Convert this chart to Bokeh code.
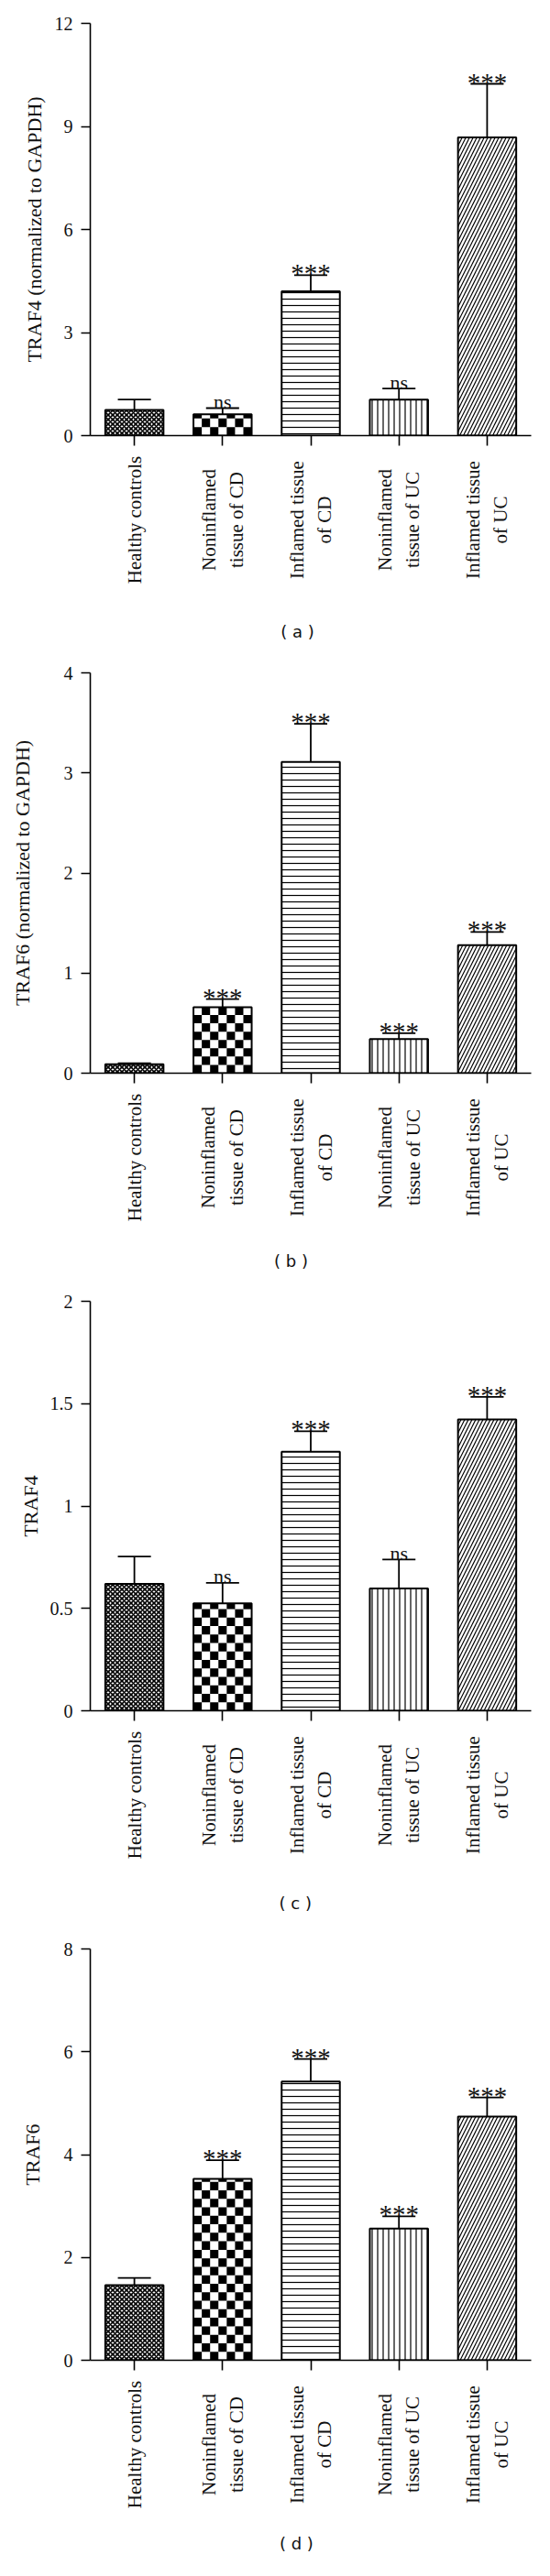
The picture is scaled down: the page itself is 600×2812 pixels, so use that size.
import math
from bokeh.plotting import figure
from bokeh.models import Range1d, FixedTicker, ColumnDataSource
from bokeh.layouts import column
from bokeh.embed import file_html
from bokeh.resources import INLINE
from bokeh.core.properties import value

# ---------------- data ----------------
categories = ["Healthy controls", "Noninflamed\ntissue of CD", "Inflamed tissue\nof CD",
              "Noninflamed\ntissue of UC", "Inflamed tissue\nof UC"]

traf4_mrna = [0.75, 0.62, 4.20, 1.05, 8.68]
traf4_mrna_err = [0.30, 0.18, 0.47, 0.32, 1.56]
traf4_mrna_sig = ["", "ns", "***", "ns", "***"]

traf6_mrna = [0.09, 0.66, 3.11, 0.34, 1.28]
traf6_mrna_err = [0.01, 0.08, 0.38, 0.06, 0.13]
traf6_mrna_sig = ["", "***", "***", "***", "***"]

traf4_prot = [0.62, 0.525, 1.265, 0.597, 1.423]
traf4_prot_err = [0.133, 0.10, 0.10, 0.142, 0.11]
traf4_prot_sig = ["", "ns", "***", "ns", "***"]

traf6_prot = [1.46, 3.53, 5.42, 2.56, 4.74]
traf6_prot_err = [0.14, 0.36, 0.44, 0.24, 0.37]
traf6_prot_sig = ["", "***", "***", "***", "***"]

ticks_a = [0, 3, 6, 9, 12]
ticks_b = [0, 1, 2, 3, 4]
ticks_c = [0, 0.5, 1, 1.5, 2]
ticks_d = [0, 2, 4, 6, 8]
tick_labels_c = ["0", "0.5", "1", "1.5", "2"]

SERIF = "Liberation Serif"
BAR_W = 0.66
CAP_W = 0.375
PAGE_W = 584
FRAME_RIGHT = 587
AX_BOTTOM = 15        # space kept under the zero line inside the chart figure
LABEL_CENTER = 92     # px below zero line: centre of the category labels
LINE_GAP = 15.5       # px between the centre of a label block and each of its two lines
TAG_X = 325           # page x of the panel tag


def make_panel(vals, errs, sigs, ticks, tick_text, ylabel, tag,
               axis_x, top, zero, fig_start, fig_end, label_standoff, tag_below):
    ymax = ticks[-1]
    frame_h = zero - top
    frame_w = FRAME_RIGHT - axis_x
    ppx = frame_w / 5.0
    ppy = frame_h / ymax
    xr = Range1d(-0.5, 4.5)
    p = figure(width=PAGE_W, height=zero + AX_BOTTOM - fig_start, output_backend="svg",
               toolbar_location=None, x_range=xr, y_range=Range1d(0, ymax),
               min_border_left=axis_x - 8, min_border_right=PAGE_W + 8 - FRAME_RIGHT,
               min_border_top=top - fig_start, min_border_bottom=AX_BOTTOM)
    p.outline_line_color = None
    p.grid.visible = False
    p.background_fill_color = "white"
    p.border_fill_color = "white"

    xs = list(range(len(vals)))
    patterns = ["diagonal_cross", " ", "horizontal_line", "vertical_line", "right_diagonal_line"]
    hscale = [5, 8, 7, 6, 8]
    hweight = [1.6, 1, 1.2, 1.2, 1.2]
    src = ColumnDataSource(dict(x=xs, top=vals, pat=patterns, hs=hscale, hw=hweight))
    p.vbar(x="x", top="top", bottom=0, width=BAR_W, source=src, fill_color="white",
           line_color=None, hatch_pattern="pat", hatch_scale="hs", hatch_weight="hw",
           hatch_color="black")

    # checkerboard for the second bar
    ci = 1
    ncol = 7
    cw = BAR_W / ncol
    rh = cw * ppx / ppy
    nrow = int(math.ceil(vals[ci] / rh))
    l, r, b, t = [], [], [], []
    for row in range(nrow):
        for col in range(ncol):
            if (row + col) % 2 == 0:
                x0 = ci - BAR_W / 2 + col * cw
                l.append(x0)
                r.append(x0 + cw)
                b.append(row * rh)
                t.append(min((row + 1) * rh, vals[ci]))
    p.quad(left=l, right=r, bottom=b, top=t, fill_color="black", line_color=None)

    p.vbar(x=xs, top=vals, bottom=0, width=BAR_W, fill_color=None,
           line_color="black", line_width=2)

    hi = [v + e for v, e in zip(vals, errs)]
    p.segment(x0=xs, y0=vals, x1=xs, y1=hi, line_color="black", line_width=1.8)
    p.segment(x0=[x - CAP_W / 2 for x in xs], y0=hi, x1=[x + CAP_W / 2 for x in xs], y1=hi,
              line_color="black", line_width=1.8)

    ns_x = [x for x, s in zip(xs, sigs) if s == "ns"]
    ns_y = [y for y, s in zip(hi, sigs) if s == "ns"]
    ns_t = [s for s in sigs if s == "ns"]
    st_x = [x for x, s in zip(xs, sigs) if s == "***"]
    st_y = [y for y, s in zip(hi, sigs) if s == "***"]
    st_t = [s for s in sigs if s == "***"]
    if ns_t:
        p.text(x=ns_x, y=ns_y, text=ns_t, text_font=value(SERIF), text_font_size="22px",
               text_align="center", text_baseline="alphabetic", y_offset=-7, text_color="#111")
    if st_t:
        p.text(x=st_x, y=st_y, text=st_t, text_font=value(SERIF), text_font_size="29px",
               text_align="center", text_baseline="alphabetic", y_offset=-2, text_color="#111")

    # y axis
    ya = p.yaxis[0]
    ya.ticker = FixedTicker(ticks=ticks)
    ya.major_label_overrides = {tk: tx for tk, tx in zip(ticks, tick_text)}
    ya.major_label_text_font = SERIF
    ya.major_label_text_font_size = "20px"
    ya.major_label_text_color = "#111"
    ya.major_label_standoff = 9
    ya.major_tick_out = 10
    ya.major_tick_in = 0
    ya.minor_tick_out = 0
    ya.minor_tick_in = 0
    ya.axis_line_width = 1.6
    ya.major_tick_line_width = 1.6
    ya.axis_label = ylabel
    ya.axis_label_text_font = SERIF
    ya.axis_label_text_font_size = "22px"
    ya.axis_label_text_font_style = "normal"
    ya.axis_label_text_color = "#111"
    ya.axis_label_standoff = label_standoff

    # x axis: ticks only (category names are set in the strip below)
    xa = p.xaxis[0]
    xa.ticker = FixedTicker(ticks=xs)
    xa.major_label_text_color = None
    xa.major_label_text_font_size = "1px"
    xa.major_label_standoff = 0
    xa.major_tick_out = 11
    xa.major_tick_in = 0
    xa.minor_tick_out = 0
    xa.minor_tick_in = 0
    xa.axis_line_width = 1.6
    xa.major_tick_line_width = 1.6

    # label strip under the chart
    strip_h = fig_end - (zero + AX_BOTTOM)
    q = figure(width=PAGE_W, height=strip_h, output_backend="svg", toolbar_location=None,
               x_range=xr, y_range=Range1d(0, strip_h),
               x_axis_location=None, y_axis_location=None,
               min_border_left=axis_x - 8, min_border_right=PAGE_W + 8 - FRAME_RIGHT,
               min_border_top=0, min_border_bottom=0)
    q.outline_line_color = None
    q.grid.visible = False
    q.background_fill_color = "white"
    q.border_fill_color = "white"

    yc = strip_h - (LABEL_CENTER - AX_BOTTOM)
    d = LINE_GAP / ppx
    lx, ly, lt = [], [], []
    for i, c in enumerate(categories):
        lines = c.split("\n")
        n = len(lines)
        for k, line in enumerate(lines):
            lx.append(i + (k - (n - 1) / 2) * 2 * d)
            ly.append(yc)
            lt.append(line)
    q.text(x=lx, y=ly, text=lt, angle=math.pi / 2, text_align="center",
           text_baseline="middle", text_font=value(SERIF), text_font_size="21px",
           text_color="#111")
    q.text(x=[(TAG_X - axis_x) / ppx - 0.5], y=[strip_h - (tag_below - AX_BOTTOM)], text=[tag],
           text_align="center", text_baseline="middle", text_font=value("DejaVu Sans"),
           text_font_size="18px", text_color="#111")
    return p, q


pa, qa = make_panel(traf4_mrna, traf4_mrna_err, traf4_mrna_sig, ticks_a, [str(t) for t in ticks_a],
                    "TRAF4 (normalized to GAPDH)", "( a )", 93, 33, 483, 8, 715, 7, 214)
pb, qb = make_panel(traf6_mrna, traf6_mrna_err, traf6_mrna_sig, ticks_b, [str(t) for t in ticks_b],
                    "TRAF6 (normalized to GAPDH)", "( b )", 106, 742, 1179, 715, 1405, 30, 205)
pc, qc = make_panel(traf4_prot, traf4_prot_err, traf4_prot_sig, ticks_c, tick_labels_c,
                    "TRAF4", "( c )", 97, 1428, 1875, 1405, 2110, 6, 210)
pd, qd = make_panel(traf6_prot, traf6_prot_err, traf6_prot_sig, ticks_d, [str(t) for t in ticks_d],
                    "TRAF6", "( d )", 95, 2135, 2584, 2110, 2804, 19, 200)

layout = column(pa, qa, pb, qb, pc, qc, pd, qd, spacing=0)
open("out.html", "w").write(file_html(layout, INLINE))
